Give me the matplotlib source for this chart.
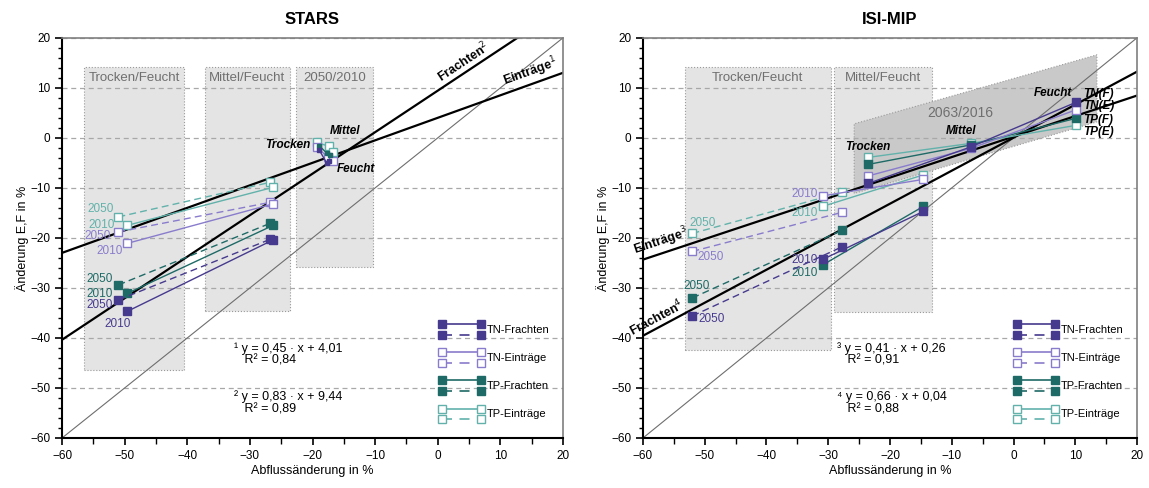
import numpy as np
import matplotlib
matplotlib.use("Agg")
import matplotlib.pyplot as plt
from matplotlib.patches import Rectangle, Polygon
from matplotlib.lines import Line2D
from matplotlib.legend_handler import HandlerBase
from matplotlib.ticker import MultipleLocator

plt.rcParams['font.family'] = ['Liberation Sans', 'DejaVu Sans']

# colours per parameter
C_TN_F = '#463a8e'
C_TN_E = '#8a7ccc'
C_TP_F = '#1e6a66'
C_TP_E = '#62b2ab'

# ---- STARS ----
stars_x_2050 = [-51.0, -26.8]
stars_x_2010 = [-49.6, -26.3]
stars_tn_f_2050 = [-32.4, -20.3]
stars_tn_f_2010 = [-34.7, -20.4]
stars_tn_e_2050 = [-18.8, -12.9]
stars_tn_e_2010 = [-21.1, -13.2]
stars_tp_f_2050 = [-29.4, -17.1]
stars_tp_f_2010 = [-31.1, -17.5]
stars_tp_e_2050 = [-15.8, -8.9]
stars_tp_e_2010 = [-17.5, -9.9]

# 2050/2010 ratios: Trocken, Mittel, Feucht
stars_ratio_tn_f_x = [-18.9, -17.7, -17.4]
stars_ratio_tn_f_y = [-2.5, -5.1, -4.6]
stars_ratio_tn_e_x = [-19.3, -17.5, -16.7]
stars_ratio_tn_e_y = [-1.9, -3.9, -4.7]
stars_ratio_tp_f_x = [-18.9, -17.7, -17.2]
stars_ratio_tp_f_y = [-1.6, -3.1, -3.4]
stars_ratio_tp_e_x = [-19.3, -17.4, -16.8]
stars_ratio_tp_e_y = [-0.9, -1.7, -2.9]

# ---- ISI-MIP ----
isi_x_2050 = [-52.0, -27.8]
isi_x_2010 = [-30.9, -14.6]
isi_tn_f_2050 = [-35.6, -21.8]
isi_tn_f_2010 = [-24.3, -14.7]
isi_tn_e_2050 = [-22.7, -14.9]
isi_tn_e_2010 = [-11.6, -8.3]
isi_tp_f_2050 = [-32.0, -18.5]
isi_tp_f_2010 = [-25.4, -13.7]
isi_tp_e_2050 = [-19.1, -10.9]
isi_tp_e_2010 = [-13.7, -7.4]

# 2063/2016 ratios: Trocken, Mittel, Feucht
isi_ratio_x = [-23.5, -6.9, 10.1]
isi_ratio_tn_f = [-9.1, -1.8, 7.1]
isi_ratio_tn_e = [-7.6, -2.1, 5.6]
isi_ratio_tp_f = [-5.3, -1.4, 3.9]
isi_ratio_tp_e = [-3.9, -1.1, 2.5]

# regressions (slope, intercept)
stars_fit_e = (0.45, 4.01)
stars_fit_f = (0.83, 9.44)
isi_fit_e = (0.41, 0.26)
isi_fit_f = (0.66, 0.04)

# grey regions: label, x0, x1, y0, y1
stars_boxes = [('Trocken/Feucht', -56.5, -40.5, -46.4, 14.1),
               ('Mittel/Feucht', -37.2, -23.6, -34.6, 14.1),
               ('2050/2010', -22.7, -10.3, -25.9, 14.1)]
isi_boxes = [('Trocken/Feucht', -53.2, -29.6, -42.4, 14.1),
             ('Mittel/Feucht', -29.1, -13.25, -34.8, 14.1)]
isi_ratio_region = [(-25.8, -11.1), (-25.8, 2.8), (13.5, 16.6), (13.5, 3.2)]

DASH = (0, (5, 3))
MS = 6


class PairHandle:
    def __init__(self, color, filled):
        self.color = color
        self.filled = filled


class PairHandler(HandlerBase):
    """solid line above, dashed line below, squares at both ends"""
    def create_artists(self, legend, orig_handle, xdescent, ydescent,
                       width, height, fontsize, trans):
        c = orig_handle.color
        fc = c if orig_handle.filled else 'white'
        arts = []
        for frac, ls in [(0.75, '-'), (0.25, (0, (6, 4.5)))]:
            y = -ydescent + height * frac
            ln = Line2D([-xdescent, -xdescent + width], [y, y], color=c, lw=1.2,
                        ls=ls, marker='s', ms=5.5, mfc=fc, mec=c, mew=1.0)
            ln.set_transform(trans)
            arts.append(ln)
        return arts


def pair(ax, x50, y50, x10, y10, color, filled, labels50, labels10):
    fc = color if filled else 'white'
    ax.plot(x50, y50, ls=DASH, color=color, lw=1.0, marker='s', ms=MS,
            mfc=fc, mec=color, mew=1.0, zorder=3)
    ax.plot(x10, y10, ls='-', color=color, lw=1.0, marker='s', ms=MS,
            mfc=fc, mec=color, mew=1.0, zorder=3)
    ax.annotate('2050', (x50[0], y50[0]), xytext=labels50, textcoords='offset pixels',
                ha='center', va='center', color=color, fontsize=8.5)
    ax.annotate('2010', (x10[0], y10[0]), xytext=labels10, textcoords='offset pixels',
                ha='center', va='center', color=color, fontsize=8.5)


def fit_label(ax, fit, x, text):
    m, b = fit
    ang = np.degrees(np.arctan(m))
    ax.text(x, m * x + b + 0.3, text, rotation=ang, transform_rotates_text=True,
            rotation_mode='anchor', ha='center', va='bottom',
            fontsize=9, fontweight='bold')


def style(ax, title):
    ax.set_xlim(-60, 20)
    ax.set_ylim(-60, 20)
    ax.xaxis.set_major_locator(MultipleLocator(10))
    ax.xaxis.set_minor_locator(MultipleLocator(5))
    ax.yaxis.set_major_locator(MultipleLocator(10))
    ax.yaxis.set_minor_locator(MultipleLocator(2))
    ax.tick_params(which='major', length=5, width=1.2, labelsize=8.5, direction='out')
    ax.tick_params(which='minor', length=3, width=1.0, direction='out')
    ax.tick_params(axis='x', which='minor', length=4)
    for s in ['left', 'bottom']:
        ax.spines[s].set_linewidth(1.5)
    for s in ['top', 'right']:
        ax.spines[s].set_color('#7f7f7f')
        ax.spines[s].set_linewidth(1.2)
    ax.set_axisbelow(True)
    ax.yaxis.grid(True, ls=(0, (4, 3)), color='#a8a8a8', lw=0.9)
    ax.set_title(title, fontsize=12, fontweight='bold', pad=10)
    ax.set_xlabel('Abflussänderung in %', fontsize=9, labelpad=2)
    ax.set_ylabel('Änderung E,F in %', fontsize=9, labelpad=1)
    # 1:1 line
    xx = np.array([-60, 20])
    ax.plot(xx, xx, color='#6e6e6e', lw=0.8, zorder=2)


def boxes(ax, regions):
    for name, x0, x1, y0, y1 in regions:
        ax.add_patch(Rectangle((x0, y0), x1 - x0, y1 - y0, facecolor='#e4e4e4',
                               edgecolor='#9a9a9a', lw=0.8, ls=':', zorder=0.1))
        ax.text((x0 + x1) / 2, y1 - 2.1, name, ha='center', va='center',
                color='#6f6f6f', fontsize=9.5)


def legend(ax):
    handles = [PairHandle(C_TN_F, True), PairHandle(C_TN_E, False),
               PairHandle(C_TP_F, True), PairHandle(C_TP_E, False)]
    labels = ['TN-Frachten', 'TN-Einträge', 'TP-Frachten', 'TP-Einträge']
    ax.legend(handles, labels, handler_map={PairHandle: PairHandler()},
              loc='lower right', bbox_to_anchor=(1.0, 0.0), frameon=False,
              fontsize=8, handlelength=3.5, handleheight=2.6,
              labelspacing=0.6, handletextpad=0.5, borderaxespad=0.8)


fig = plt.figure(figsize=(11.49, 4.88), dpi=100)
ax1 = fig.add_axes([0.054, 0.1025, 0.436, 0.82])
ax2 = fig.add_axes([0.5596, 0.1025, 0.43, 0.82])

# ---------- STARS ----------
style(ax1, 'STARS')
boxes(ax1, stars_boxes)
xx = np.array([-60, 20])
for fit in (stars_fit_e, stars_fit_f):
    ax1.plot(xx, fit[0] * xx + fit[1], color='black', lw=1.6, zorder=2.5)
fit_label(ax1, stars_fit_f, 4.8, 'Frachten$^{2}$')
fit_label(ax1, stars_fit_e, 15.3, 'Einträge$^{1}$')

pair(ax1, stars_x_2050, stars_tp_e_2050, stars_x_2010, stars_tp_e_2010, C_TP_E, False, (-18, 8), (-26, 0))
pair(ax1, stars_x_2050, stars_tn_e_2050, stars_x_2010, stars_tn_e_2010, C_TN_E, False, (-21, -4), (-18, -8))
pair(ax1, stars_x_2050, stars_tp_f_2050, stars_x_2010, stars_tp_f_2010, C_TP_F, True, (-19, 6), (-28, -1))
pair(ax1, stars_x_2050, stars_tn_f_2050, stars_x_2010, stars_tn_f_2010, C_TN_F, True, (-19, -5), (-10, -13))

for x, y, c, filled in [(stars_ratio_tp_e_x, stars_ratio_tp_e_y, C_TP_E, False),
                        (stars_ratio_tn_e_x, stars_ratio_tn_e_y, C_TN_E, False),
                        (stars_ratio_tp_f_x, stars_ratio_tp_f_y, C_TP_F, True),
                        (stars_ratio_tn_f_x, stars_ratio_tn_f_y, C_TN_F, True)]:
    ax1.plot(x, y, color=c, lw=1.0, marker='s', ms=MS if not filled else 3.5,
             mfc=c if filled else 'white', mec=c, mew=1.0, zorder=3)

lab = dict(fontsize=8.5, fontweight='bold', fontstyle='italic')
ax1.text(-20.4, -1.4, 'Trocken', ha='right', va='center', **lab)
ax1.text(-17.3, 0.2, 'Mittel', ha='left', va='bottom', **lab)
ax1.text(-16.2, -6.2, 'Feucht', ha='left', va='center', **lab)

eq = dict(fontsize=9, linespacing=1.0)
ax1.text(-32.6, -45.2, '¹ y = 0,45 · x + 4,01\n   R² = 0,84', **eq)
ax1.text(-32.6, -54.9, '² y = 0,83 · x + 9,44\n   R² = 0,89', **eq)
legend(ax1)

# ---------- ISI-MIP ----------
style(ax2, 'ISI-MIP')
boxes(ax2, isi_boxes)
ax2.add_patch(Polygon(isi_ratio_region, closed=True, facecolor='#c9c9c9',
                      edgecolor='#9a9a9a', lw=0.8, ls=':', zorder=0.2))
ax2.text(-8.7, 5.0, '2063/2016', ha='center', va='center', color='#6f6f6f', fontsize=10)
for fit in (isi_fit_e, isi_fit_f):
    ax2.plot(xx, fit[0] * xx + fit[1], color='black', lw=1.6, zorder=2.5)
fit_label(ax2, isi_fit_e, -56.6, 'Einträge$^{3}$')
fit_label(ax2, isi_fit_f, -57.2, 'Frachten$^{4}$')

pair(ax2, isi_x_2050, isi_tp_e_2050, isi_x_2010, isi_tp_e_2010, C_TP_E, False, (10, 10), (-18, -7))
pair(ax2, isi_x_2050, isi_tn_e_2050, isi_x_2010, isi_tn_e_2010, C_TN_E, False, (18, -6), (-18, 2))
pair(ax2, isi_x_2050, isi_tp_f_2050, isi_x_2010, isi_tp_f_2010, C_TP_F, True, (4, 12), (-18, -8))
pair(ax2, isi_x_2050, isi_tn_f_2050, isi_x_2010, isi_tn_f_2010, C_TN_F, True, (19, -3), (-18, -1))

for y, c, filled in [(isi_ratio_tp_e, C_TP_E, False), (isi_ratio_tp_f, C_TP_F, True),
                     (isi_ratio_tn_e, C_TN_E, False), (isi_ratio_tn_f, C_TN_F, True)]:
    ax2.plot(isi_ratio_x, y, color=c, lw=1.0, marker='s', ms=MS,
             mfc=c if filled else 'white', mec=c, mew=1.0, zorder=3)

ax2.text(-23.6, -1.8, 'Trocken', ha='center', va='center', **lab)
ax2.text(-8.5, 1.3, 'Mittel', ha='center', va='center', **lab)
ax2.text(9.5, 9.0, 'Feucht', ha='right', va='center', **lab)
for yl, name in zip([8.7, 6.3, 3.6, 1.1], ['TN(F)', 'TN(E)', 'TP(F)', 'TP(E)']):
    ax2.text(11.2, yl, name, ha='left', va='center', **lab)

ax2.text(-28.6, -45.2, '³ y = 0,41 · x + 0,26\n   R² = 0,91', **eq)
ax2.text(-28.6, -54.9, '⁴ y = 0,66 · x + 0,04\n   R² = 0,88', **eq)
legend(ax2)

fig.savefig('out.png', dpi=100)
